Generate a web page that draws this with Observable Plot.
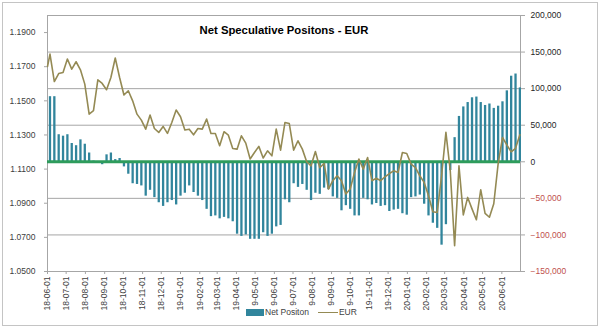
<!DOCTYPE html>
<html><head><meta charset="utf-8">
<script src="https://cdn.jsdelivr.net/npm/d3@7"></script>
<script src="https://cdn.jsdelivr.net/npm/@observablehq/plot@0.6"></script>
<style>
html,body{margin:0;padding:0;background:#fff;}
#wrap{position:relative;width:600px;height:329px;font-family:"Liberation Sans",Arial,sans-serif;overflow:hidden;}
#border{position:absolute;left:2px;top:2px;width:594px;height:322px;border:1px solid #c4c4c4;pointer-events:none;}
#title{position:absolute;left:0;top:23px;width:568px;text-align:center;font-weight:bold;font-size:11.3px;line-height:14px;color:#000;}
#legend{position:absolute;left:244px;top:306px;height:12px;background:#fff;display:flex;align-items:center;font-size:8.5px;color:#404040;padding:0 2px;}
.sw-bar{display:inline-block;width:18px;height:7px;background:#31859c;}
.sw-line{display:inline-block;width:20px;height:0;border-top:1.6px solid #948a54;margin-left:9px;}
</style></head><body>
<div id="wrap"><div id="title">Net Speculative Positons - EUR</div></div>
<script>
// Weekly report dates start here (Tuesdays)
const startDate = "2018-06-05";
const eurFirstDate = "2018-06-01";
const eurFirstValue = 1.1701;

const netPosition = [
  89000, 89000, 37000, 35000, 37000, 25000, 22000, 30000, 24000, 12000,
  1000, -2000, -4000, 9500, 12000, 3000, 4500, -7000, -17000, -30000,
  -31000, -33000, -47000, -39000, -49000, -56000, -61000, -56000, -53000, -59000,
  -47000, -43000, -33000, -42000, -47000, -53000, -65000, -75000, -74000, -78000,
  -76000, -78000, -82000, -99000, -102000, -100000, -106000, -106000, -106000, -97000,
  -102000, -99000, -89000, -87000, -52000, -56000, -30000, -35000, -31000, -39000,
  -53000, -43000, -44500, -36000, -38000, -48000, -50000, -67000, -60000, -65000,
  -74000, -74000, -50000, -52000, -59000, -57000, -61000, -60000, -68000, -66000,
  -65000, -71000, -73000, -49000, -48000, -45500, -58000, -74000, -84000, -91000,
  -114000, -86000, -12000, 33000, 62000, 75000, 81000, 87500, 88500, 81000,
  77000, 79000, 73000, 76000, 82000, 97000, 117000, 120000, 101000
];

const eur = [
  1.1774, 1.1613, 1.1660, 1.1666, 1.1745, 1.1686, 1.1729, 1.1682, 1.1598, 1.1422,
  1.1442, 1.1623, 1.1602, 1.1565, 1.1637, 1.1751, 1.1637, 1.1534, 1.1559, 1.1500,
  1.1422, 1.1387, 1.1334, 1.1417, 1.1338, 1.1315, 1.1350, 1.1309, 1.1373, 1.1446,
  1.1407, 1.1329, 1.1334, 1.1301, 1.1338, 1.1334, 1.1393, 1.1309, 1.1309, 1.1237,
  1.1319, 1.1299, 1.1221, 1.1217, 1.1295, 1.1252, 1.1159, 1.1197, 1.1233, 1.1165,
  1.1207, 1.1178, 1.1334, 1.1211, 1.1373, 1.1367, 1.1211, 1.1266, 1.1217, 1.1143,
  1.1119, 1.1203, 1.1109, 1.1133, 1.0983, 1.1032, 1.1061, 1.1032, 1.0954, 1.0983,
  1.1080, 1.1159, 1.1100, 1.1168, 1.1032, 1.1047, 1.1032, 1.1055, 1.1074, 1.1090,
  1.1080, 1.1197, 1.1191, 1.1129, 1.1109, 1.1061, 1.1022, 1.0944, 1.0850, 1.0846,
  1.1061, 1.1315, 1.1090, 1.0651, 1.1119, 1.0832, 1.0934, 1.0867, 1.0803, 1.0979,
  1.0841, 1.0818, 1.0897, 1.1131, 1.1285, 1.1242, 1.1201, 1.1222, 1.1301
];

const eurTicks = [1.05, 1.07, 1.09, 1.11, 1.13, 1.15, 1.17, 1.19];
const netTicksPos = [0, 50000, 100000, 150000, 200000];
const netTicksNeg = [-150000, -100000, -50000];
const gridTicks = [-100000, -50000, 50000, 100000, 150000, 200000];
const xDomain = ["2018-06-01", "2020-07-01"];
const monthTickRange = ["2018-06-01", "2020-06-02"];

const EUR_MIN = 1.05, EUR_MAX = 1.20, NET_MIN = -150000, NET_MAX = 200000;
const toY = v => NET_MIN + (v - EUR_MIN) / (EUR_MAX - EUR_MIN) * (NET_MAX - NET_MIN);
const fromY = y => EUR_MIN + (y - NET_MIN) / (NET_MAX - NET_MIN) * (EUR_MAX - EUR_MIN);

const start = new Date(startDate);
const weeks = netPosition.map((_, i) => d3.utcDay.offset(start, 7 * i));
const barData = netPosition.map((v, i) => ({date: weeks[i], value: v}));
const lineData = [{date: new Date(eurFirstDate), value: eurFirstValue}]
  .concat(eur.map((v, i) => ({date: weeks[i], value: v})));
const monthTicks = d3.utcMonth.range(new Date(monthTickRange[0]), new Date(monthTickRange[1]));

const teal = "#31859c", green = "#2e9c5c", olive = "#948a54", grid = "#a6a6a6";

const chart = Plot.plot({
  width: 600, height: 329,
  marginLeft: 47, marginRight: 80, marginTop: 15, marginBottom: 58,
  style: {fontFamily: "'Liberation Sans', Arial, sans-serif", fontSize: "8.5px", color: "#404040", background: "transparent"},
  x: {type: "utc", domain: xDomain.map(d => new Date(d)), axis: null, label: null},
  y: {domain: [NET_MIN, NET_MAX], axis: null, label: null},
  marks: [
    Plot.gridY(gridTicks, {stroke: grid, strokeOpacity: 1}),
    Plot.frame({stroke: grid}),
    Plot.ruleX(barData, {x: "date", y1: 0, y2: "value", stroke: teal, strokeWidth: 2.3}),
    Plot.ruleY([0], {stroke: green, strokeWidth: 3}),
    Plot.line(lineData, {x: "date", y: d => toY(d.value), stroke: olive, strokeWidth: 1.6}),
    Plot.axisY(eurTicks.map(toY), {anchor: "left", label: null, tickFormat: d => fromY(d).toFixed(4), tickSize: 3, tickPadding: 9, stroke: grid, fill: "#404040"}),
    Plot.axisY(netTicksPos, {anchor: "right", label: null, tickFormat: d3.format(","), tickSize: 4, tickPadding: 6, stroke: grid, fill: "#262626"}),
    Plot.axisY(netTicksNeg, {anchor: "right", label: null, tickFormat: d3.format(","), tickSize: 4, tickPadding: 6, stroke: grid, fill: "#c0504d"}),
    Plot.axisX(monthTicks, {anchor: "bottom", label: null, tickRotate: -90, tickFormat: d3.utcFormat("%y-%m-%d"), tickSize: 3, tickPadding: 2, stroke: grid, fill: "#404040"})
  ]
});

const wrap = document.getElementById("wrap");
chart.style.position = "absolute";
chart.style.left = "0";
chart.style.top = "0";
wrap.insertBefore(chart, wrap.firstChild);

const legend = document.createElement("div");
legend.id = "legend";
legend.innerHTML = '<span class="sw-bar"></span><span style="margin-left:1px">Net Positon</span>' +
  '<span class="sw-line"></span><span style="margin-left:1px">EUR</span>';
wrap.appendChild(legend);
const border = document.createElement("div");
border.id = "border";
wrap.appendChild(border);
</script>
</body></html>
